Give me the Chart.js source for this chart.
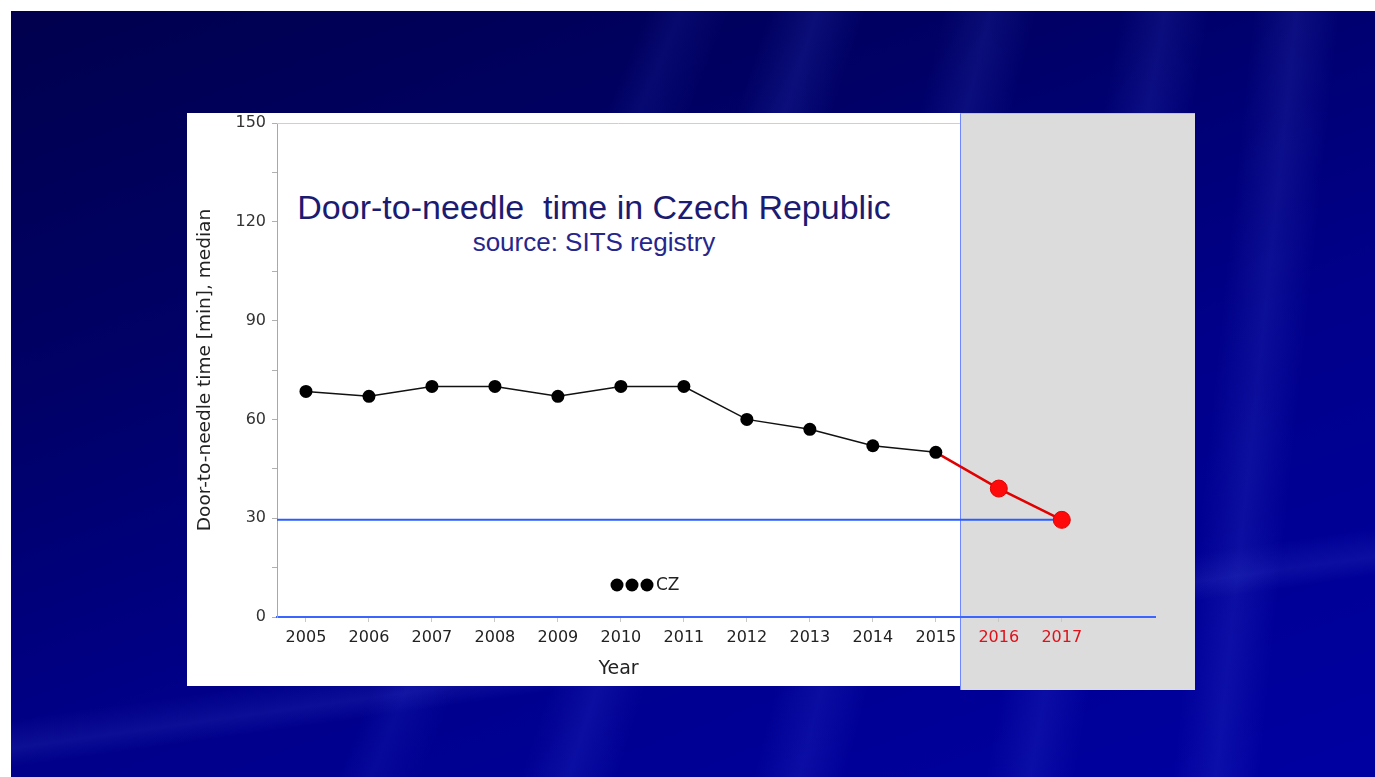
<!DOCTYPE html>
<html>
<head>
<meta charset="utf-8">
<script src="https://cdn.jsdelivr.net/npm/chart.js@4.4.1/dist/chart.umd.min.js"></script>
<style>
html,body{margin:0;padding:0;width:1375px;height:777px;overflow:hidden;background:#fff;}
#bg{position:absolute;left:11px;top:11px;width:1364px;height:766px;
 background:
  linear-gradient(112deg, transparent 38%, rgba(70,90,255,0.10) 40%, transparent 43%),
  linear-gradient(108deg, transparent 47%, rgba(80,100,255,0.14) 50%, transparent 53%),
  linear-gradient(104deg, transparent 60%, rgba(90,110,255,0.12) 63%, transparent 66%),
  linear-gradient(100deg, transparent 74%, rgba(90,110,255,0.12) 77%, transparent 80%),
  linear-gradient(96deg, transparent 86%, rgba(100,120,255,0.12) 89%, transparent 92%),
  linear-gradient(172deg, transparent 74%, rgba(120,140,255,0.10) 77%, transparent 79%),
  linear-gradient(160deg, #00004e 0%, #000066 30%, #00008a 60%, #0000a2 100%);}
#white{position:absolute;left:187px;top:113px;width:773px;height:573px;background:#fff;}
#gray{position:absolute;left:960px;top:113px;width:235px;height:577px;background:#dcdcdc;border-left:1px solid #6f86ff;border-top:1px solid #b8c0f0;box-sizing:border-box;}
#chart{position:absolute;left:0;top:0;}
.t1{position:absolute;left:244px;width:700px;top:187px;text-align:center;font-family:"Liberation Sans",Arial,sans-serif;font-size:34px;line-height:40px;color:#1b1b72;white-space:nowrap;}
.t2{position:absolute;left:244px;width:700px;top:227px;text-align:center;font-family:"Liberation Sans",Arial,sans-serif;font-size:26px;line-height:30px;color:#26268c;white-space:nowrap;}
</style>
</head>
<body>
<div id="bg"></div>
<div id="white"></div>
<div id="gray"></div>
<div class="t1">Door-to-needle&nbsp; time in Czech Republic</div>
<div class="t2">source: SITS registry</div>
<canvas id="chart" width="1375" height="777"></canvas>
<script>
// ---- data ----
const czYears = [2005, 2006, 2007, 2008, 2009, 2010, 2011, 2012, 2013, 2014, 2015];
const czValues = [68.5, 67, 70, 70, 67, 70, 70, 60, 57, 52, 50];
const projYears = [2015, 2016, 2017];
const projValues = [50, 39, 29.5];
const targetValue = 29.5;
const tickYears = [2005, 2006, 2007, 2008, 2009, 2010, 2011, 2012, 2013, 2014, 2015, 2016, 2017];
const highlightYears = [2016, 2017];
const yLabelValues = [0, 30, 60, 90, 120, 150];
const xRange = [2004.54, 2018.48];
const yRange = [0, 150];
const xTitle = 'Year';
const yTitle = 'Door-to-needle time [min], median';

const czData = czYears.map((x, i) => ({x: x, y: czValues[i]}));
const projData = projYears.map((x, i) => ({x: x, y: projValues[i]}));
const targetData = [{x: xRange[0], y: targetValue}, {x: projYears[projYears.length - 1], y: targetValue}];

const PANEL_RIGHT = 960; // right edge of the original white plot panel

const dotLegend = {
  id: 'dotLegend',
  afterDatasetsDraw(chart) {
    const ds = chart.data.datasets[0];
    const ctx = chart.ctx;
    const a = chart.chartArea;
    const cx = a.left + 340, cy = a.bottom - 32;
    ctx.save();
    ctx.fillStyle = ds.pointBackgroundColor;
    for (let k = 0; k < 3; k++) {
      ctx.beginPath();
      ctx.arc(cx + k * 15, cy, 6.5, 0, Math.PI * 2);
      ctx.fill();
    }
    ctx.fillStyle = '#222';
    ctx.font = '17px "DejaVu Sans"';
    ctx.textBaseline = 'middle';
    ctx.fillText(ds.label, cx + 39, cy + 1);
    ctx.restore();
  }
};
const frameAndTitle = {
  id: 'frameAndTitle',
  beforeDatasetsDraw(chart) {
    const ctx = chart.ctx, a = chart.chartArea;
    ctx.save();
    ctx.strokeStyle = '#cfcfcf';
    ctx.lineWidth = 1;
    ctx.beginPath();
    ctx.moveTo(a.left, a.top + 0.5);
    ctx.lineTo(PANEL_RIGHT, a.top + 0.5);
    ctx.stroke();
    // x-axis title centred under the original plot panel
    ctx.fillStyle = '#222';
    ctx.font = '19px "DejaVu Sans"';
    ctx.textAlign = 'center';
    ctx.textBaseline = 'middle';
    ctx.fillText(xTitle, (a.left + PANEL_RIGHT) / 2, a.bottom + 52);
    ctx.restore();
  }
};

new Chart(document.getElementById('chart'), {
  type: 'line',
  data: {
    datasets: [
      {label: 'CZ', data: czData, borderColor: '#111', borderWidth: 1.5,
       pointBackgroundColor: '#000', pointBorderColor: '#000', pointRadius: 6.5, pointBorderWidth: 0, tension: 0},
      {label: 'projection', data: projData, borderColor: '#e00000', borderWidth: 2.5,
       pointBackgroundColor: '#ff0a0a', pointBorderColor: '#e00000', pointBorderWidth: 1,
       pointRadius: [0, 8.5, 8.5], tension: 0},
      {label: 'target', data: targetData, borderColor: '#2a5cff', borderWidth: 2, pointRadius: 0, tension: 0}
    ]
  },
  options: {
    responsive: false,
    animation: false,
    layout: {padding: {left: 187, top: 123, right: 220, bottom: 90}},
    plugins: {legend: {display: false}, tooltip: {enabled: false}},
    scales: {
      x: {
        type: 'linear', min: xRange[0], max: xRange[1],
        afterBuildTicks: s => { s.ticks = tickYears.map(v => ({value: v})); },
        afterFit: s => { s.height = 70; },
        border: {color: '#3a66ff', width: 2},
        grid: {drawOnChartArea: false, color: '#c8c8c8', tickLength: 5},
        ticks: {
          font: {family: 'DejaVu Sans', size: 16},
          color: c => (c.tick && highlightYears.includes(c.tick.value)) ? '#e0101a' : '#222',
          padding: 6, maxRotation: 0, autoSkip: false,
          callback: v => String(v)
        },
        title: {display: false, text: xTitle}
      },
      y: {
        min: yRange[0], max: yRange[1],
        afterFit: s => { s.width = 90; },
        border: {color: '#a8a8a8', width: 1},
        grid: {drawOnChartArea: false, color: '#b0b0b0', tickLength: 5},
        ticks: {
          stepSize: 15,
          font: {family: 'DejaVu Sans', size: 16},
          color: '#333', padding: 6,
          callback: v => yLabelValues.includes(v) ? String(v) : ''
        },
        title: {display: true, text: yTitle, font: {family: 'DejaVu Sans', size: 18.5}, color: '#222', padding: {top: 7, bottom: 4}}
      }
    }
  },
  plugins: [dotLegend, frameAndTitle]
});
</script>
</body>
</html>
